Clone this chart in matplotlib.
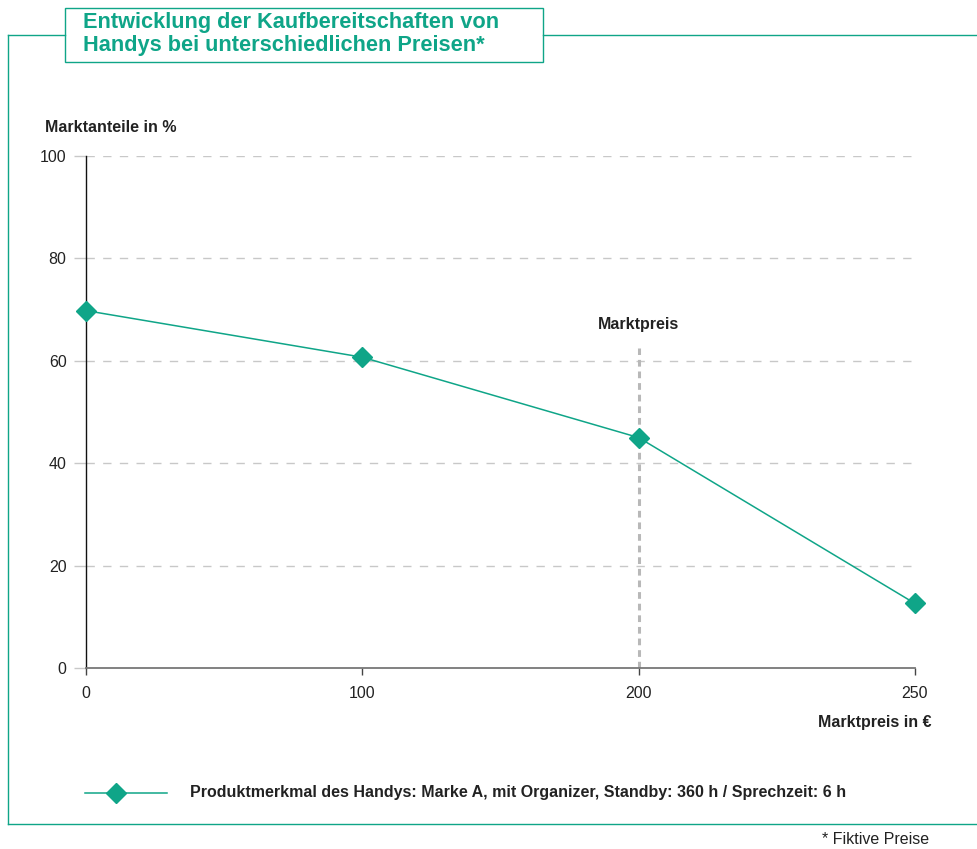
import matplotlib
matplotlib.use("Agg")
import matplotlib.pyplot as plt
from matplotlib.patches import Rectangle
from matplotlib.lines import Line2D

plt.rcParams['font.family'] = ['Liberation Sans', 'DejaVu Sans']

# Data
prices = ["0", "100", "200", "250"]
shares = [69.8, 60.7, 45.0, 12.6]
y_ticks = [0, 20, 40, 60, 80, 100]
market_price_label = "200"

title = "Entwicklung der Kaufbereitschaften von\nHandys bei unterschiedlichen Preisen*"
y_label = "Marktanteile in %"
x_label = "Marktpreis in €"
series_label = "Produktmerkmal des Handys: Marke A, mit Organizer, Standby: 360 h / Sprechzeit: 6 h"
footnote = "* Fiktive Preise"

TEAL = "#0fa588"
GRID = "#c8c8c8"
TEXT = "#222222"
FS = 11.5

W, H = 978, 849
fig = plt.figure(figsize=(W / 100, H / 100), dpi=100)

def fx(px):
    return px / W

def fy(py):
    return 1 - py / H

# Outer frame (open top where title box sits)
for xs, ys in [([8, 65], [35, 35]), ([543, 978], [35, 35]),
               ([8, 8], [35, 824]), ([8, 978], [824, 824])]:
    fig.add_artist(Line2D([fx(x) for x in xs], [fy(y) for y in ys],
                          color=TEAL, lw=1.0, transform=fig.transFigure))

# Title box
fig.add_artist(Rectangle((fx(65), fy(62)), fx(543) - fx(65), fy(8) - fy(62),
                         facecolor="white", edgecolor=TEAL, lw=1.0,
                         transform=fig.transFigure))
fig.text(fx(83), fy(34), title, color=TEAL, fontsize=15.7, fontweight="bold",
         ha="left", va="center", linespacing=1.12)

# Plot area
ax = fig.add_axes([fx(86), fy(668), fx(915) - fx(86), fy(156) - fy(668)])
x = list(range(len(prices)))
ax.set_xlim(0, len(prices) - 1)
ax.set_ylim(0, 100)

for t in y_ticks[1:]:
    ax.axhline(t, color=GRID, lw=1.0, dashes=(6, 6), zorder=1)

mp = prices.index(market_price_label)
ax.plot([mp, mp], [0, 62.5], color="#b8b8b8", lw=2.2, dashes=(2.2, 1.6), zorder=2)
ax.text(mp, 67, "Marktpreis", ha="center", va="center", fontsize=FS,
        fontweight="bold", color=TEXT)

ax.plot(x, shares, color=TEAL, lw=1.1, marker="D", ms=10, mfc=TEAL, mec=TEAL,
        zorder=4, clip_on=False)

for s in ["top", "right"]:
    ax.spines[s].set_visible(False)
ax.spines["left"].set_color("#111111")
ax.spines["left"].set_linewidth(1.0)
ax.spines["bottom"].set_color("#777777")
ax.spines["bottom"].set_linewidth(1.3)

ax.set_yticks(y_ticks)
ax.set_yticklabels([str(t) for t in y_ticks], fontsize=FS, color=TEXT)
ax.tick_params(axis="y", length=9, width=1.0, color=GRID, pad=5)
ax.set_xticks(x)
ax.set_xticklabels(prices, fontsize=FS, color=TEXT)
ax.tick_params(axis="x", length=5, width=1.0, color="#444444", pad=8)

fig.text(fx(45), fy(128), y_label, ha="left", va="center", fontsize=FS,
         fontweight="bold", color=TEXT)
fig.text(fx(932), fy(722), x_label, ha="right", va="center", fontsize=FS,
         fontweight="bold", color=TEXT)

# Legend
fig.add_artist(Line2D([fx(85), fx(167)], [fy(793), fy(793)], color=TEAL, lw=1.1,
                      transform=fig.transFigure))
fig.add_artist(Line2D([fx(116)], [fy(793)], color=TEAL, marker="D", ms=10,
                      mfc=TEAL, mec=TEAL, transform=fig.transFigure))
fig.text(fx(190), fy(793), series_label, ha="left", va="center", fontsize=FS,
         fontweight="bold", color=TEXT)

fig.text(fx(929), fy(840), footnote, ha="right", va="center", fontsize=FS,
         color=TEXT)

fig.savefig("out.png", dpi=100)
